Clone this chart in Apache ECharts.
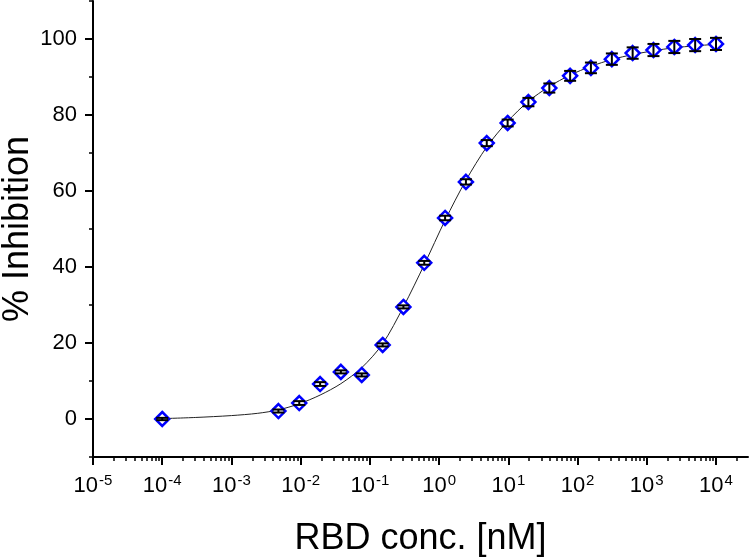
<!DOCTYPE html>
<html>
<head>
<meta charset="utf-8">
<script src="https://cdn.jsdelivr.net/npm/echarts@6/dist/echarts.min.js"></script>
<style>
  html, body { margin: 0; padding: 0; background: #fff; }
  #chart { width: 750px; height: 558px; }
</style>
</head>
<body>
<div id="chart"></div>
<script>
  // RBD concentrations (nM), 2-fold dilution series plus the blank
  const concNM = [1e-4, 0.00477, 0.00954, 0.0191, 0.0381, 0.0763, 0.153, 0.305, 0.61, 1.22,
    2.44, 4.88, 9.77, 19.5, 39.1, 78.1, 156, 313, 625, 1250, 2500, 5000, 10000];
  const inhibition = [0, 2.1, 4.2, 9.2, 12.4, 11.6, 19.5, 29.5, 41.1, 52.9,
    62.4, 72.6, 77.9, 83.4, 87.1, 90.3, 92.4, 94.7, 96.3, 97.1, 97.9, 98.4, 98.7];
  const errors = [0.3, 0.4, 0.5, 0.5, 0.4, 0.4, 0.4, 0.4, 0.5, 0.6,
    0.7, 0.8, 0.9, 1.1, 1.2, 1.3, 1.4, 1.5, 1.5, 1.6, 1.6, 1.6, 1.6];

  // fitted curve
  const fitX = [1e-4, 3e-4, 1e-3, 0.0024, 0.00477, 0.00954, 0.0191, 0.0381, 0.0763, 0.153,
    0.305, 0.61, 1.22, 2.44, 4.88, 9.77, 19.5, 39.1, 78.1, 156, 313, 625, 1250, 2500, 5000, 10000];
  const fitY = [0.1, 0.4, 0.9, 1.5, 2.4, 4.0, 6.3, 9.3, 13.5, 19.8,
    29.5, 40.6, 52.3, 62.8, 71.6, 78.3, 83.6, 87.5, 90.5, 92.8, 94.6, 95.9, 96.9, 97.7, 98.2, 98.6];

  const xMajor = [1e-5, 1e-4, 1e-3, 1e-2, 1e-1, 1, 10, 100, 1000, 10000];
  const yMajor = [0, 20, 40, 60, 80, 100];
  const yMinor = [-10, 10, 30, 50, 70, 90, 110];

  const X_MIN = 1e-5, X_MAX = 2.9e4;
  const xMinor = [];
  for (let e = -5; e <= 4; e++) {
    for (let m = 2; m <= 9; m++) {
      const v = m * Math.pow(10, e);
      if (v <= X_MAX) xMinor.push(v);
    }
  }

  const FONT = "Liberation Sans";
  const chart = echarts.init(document.getElementById("chart"));

  const expLabel = (v) => {
    const e = Math.round(Math.log10(v));
    return "{b|10}{s|" + e + "}";
  };

  chart.setOption({
    animation: false,
    grid: { left: 93, right: 2, top: 1, bottom: 101, containLabel: false, outerBoundsMode: "none" },
    xAxis: [
      {
        type: "log",
        logBase: 10,
        min: X_MIN,
        max: X_MAX,
        position: "bottom",
        name: "RBD conc. [nM]",
        nameLocation: "middle",
        nameMoveOverlap: false,
        nameGap: 64,
        nameTextStyle: { fontFamily: FONT, fontSize: 36, color: "#000" },
        axisLine: { onZero: false, lineStyle: { color: "#000", width: 2 } },
        axisTick: { customValues: xMajor, length: 8, lineStyle: { color: "#000", width: 2 } },
        axisLabel: {
          customValues: xMajor,
          margin: 16,
          formatter: expLabel,
          rich: {
            b: { fontFamily: FONT, fontSize: 22, color: "#000" },
            s: { fontFamily: FONT, fontSize: 15, color: "#000", padding: [0, 0, 11, 1] }
          }
        },
        splitLine: { show: false }
      },
      {
        type: "log",
        logBase: 10,
        min: X_MIN,
        max: X_MAX,
        position: "bottom",
        axisLine: { show: false, onZero: false },
        axisTick: { customValues: xMinor, length: 4, lineStyle: { color: "#000", width: 1.5 } },
        axisLabel: { show: false },
        splitLine: { show: false }
      }
    ],
    yAxis: [
      {
        type: "value",
        min: -10,
        max: 110,
        interval: 10,
        position: "left",
        name: "% Inhibition",
        nameLocation: "middle",
        nameMoveOverlap: false,
        nameGap: 57,
        nameTextStyle: { fontFamily: FONT, fontSize: 36, color: "#000" },
        axisLine: { show: true, onZero: false, lineStyle: { color: "#000", width: 2 } },
        axisTick: { show: true, customValues: yMajor, length: 8, lineStyle: { color: "#000", width: 2 } },
        axisLabel: { customValues: yMajor, margin: 16, fontFamily: FONT, fontSize: 22, color: "#000" },
        splitLine: { show: false }
      },
      {
        type: "value",
        min: -10,
        max: 110,
        interval: 10,
        position: "left",
        axisLine: { show: false, onZero: false },
        axisTick: { show: true, customValues: yMinor, length: 4, lineStyle: { color: "#000", width: 1.5 } },
        axisLabel: { show: false },
        splitLine: { show: false }
      }
    ],
    series: [
      {
        name: "Fit",
        type: "line",
        data: fitX.map((x, i) => [x, fitY[i]]),
        smooth: 0.3,
        symbol: "none",
        lineStyle: { color: "#222", width: 1 },
        z: 1
      },
      {
        name: "Data",
        type: "scatter",
        data: concNM.map((x, i) => [x, inhibition[i]]),
        symbol: "diamond",
        symbolSize: [14, 14],
        itemStyle: { color: "#fff", borderColor: "#0000ff", borderWidth: 2.5, opacity: 1 },
        z: 2
      },
      {
        name: "Error",
        type: "custom",
        data: concNM.map((x, i) => [x, inhibition[i], errors[i]]),
        encode: { x: 0, y: 1 },
        renderItem: (params, api) => {
          const x = api.value(0), y = api.value(1), err = api.value(2);
          const lo = api.coord([x, y - err]);
          const hi = api.coord([x, y + err]);
          const hw = 6;
          const style = { stroke: "#000", lineWidth: 2 };
          return {
            type: "group",
            children: [
              { type: "line", shape: { x1: lo[0], y1: lo[1], x2: hi[0], y2: hi[1] }, style: style },
              { type: "line", shape: { x1: lo[0] - hw, y1: lo[1], x2: lo[0] + hw, y2: lo[1] }, style: style },
              { type: "line", shape: { x1: hi[0] - hw, y1: hi[1], x2: hi[0] + hw, y2: hi[1] }, style: style }
            ]
          };
        },
        z: 3
      }
    ]
  });
</script>
</body>
</html>
